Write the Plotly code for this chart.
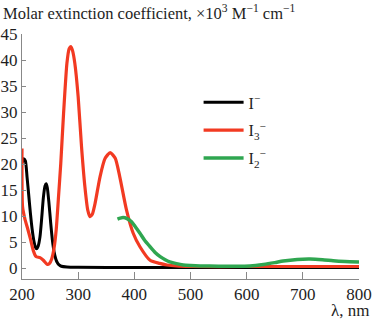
import plotly.graph_objects as go

# I^- (black)
wl_i = [200, 203, 206, 209, 212, 215, 218, 221, 224, 226, 229, 232, 235, 238, 241, 243,
        245, 248, 251, 254, 257, 260, 263, 266, 270, 280, 300, 400, 500, 600, 700, 800]
eps_i = [20.2, 21.0, 20.6, 17.5, 14.0, 10.5, 7.5, 5.3, 4.0, 3.7, 4.3, 6.0, 9.5, 13.5, 15.8, 16.2,
         15.5, 12.5, 8.8, 5.5, 3.2, 1.8, 1.0, 0.6, 0.35, 0.2, 0.15, 0.1, 0.1, 0.1, 0.1, 0.1]

# I3^- (red)
wl_i3 = [200, 201, 205, 210, 215, 220, 225, 232, 238, 245, 249, 253, 257, 261, 265, 269, 274,
         280, 284, 287, 290, 294, 300, 306, 312, 317, 321, 325, 330, 339, 348, 357, 366, 374,
         386, 398, 410, 428, 445, 458, 475, 500, 600, 700, 800]
eps_i3 = [23.0, 11.8, 9.5, 7.6, 5.6, 3.4, 2.2, 2.0, 1.5, 0.7, 0.9, 1.8, 3.8, 7.5, 13.7, 20.1, 29.7,
          39.4, 42.2, 42.6, 41.8, 39.4, 32.9, 23.3, 15.6, 11.2, 9.9, 10.3, 12.4, 17.6, 21.1, 22.2, 21.1, 17.6,
          11.2, 6.7, 4.1, 1.5, 0.9, 0.6, 0.4, 0.3, 0.3, 0.3, 0.3]

# I2^- (green)
wl_i2 = [370, 375, 380, 387, 395, 402, 410, 418, 428, 437, 446, 455, 463, 475, 487, 500, 517,
         550, 580, 606, 630, 650, 665, 690, 713, 735, 754, 775, 800]
eps_i2 = [9.4, 9.6, 9.7, 9.5, 8.9, 7.9, 6.7, 5.4, 4.1, 3.0, 2.2, 1.6, 1.2, 0.85, 0.6, 0.5, 0.42,
          0.35, 0.33, 0.4, 0.7, 1.05, 1.35, 1.65, 1.73, 1.6, 1.4, 1.25, 1.15]

x_ticks = [200, 300, 400, 500, 600, 700, 800]
y_ticks = [0, 5, 10, 15, 20, 25, 30, 35, 40, 45]

serif = "Liberation Serif, Times New Roman, serif"
txt = "#1e1e1e"

fig = go.Figure()
fig.add_trace(go.Scatter(x=wl_i, y=eps_i, mode="lines", name="I<sup>−</sup>",
                         line=dict(color="#000000", width=3, shape="spline", smoothing=0.6),
                         legendgroup="a"))
fig.add_trace(go.Scatter(x=wl_i3, y=eps_i3, mode="lines", name="I<sub>3</sub><sup>−</sup>",
                         line=dict(color="#f23a22", width=3.2, shape="spline", smoothing=0.6),
                         legendgroup="b"))
fig.add_trace(go.Scatter(x=wl_i2, y=eps_i2, mode="lines", name="I<sub>2</sub><sup>−</sup>",
                         line=dict(color="#2fa650", width=3.5, shape="spline", smoothing=0.6),
                         legendgroup="c"))

fig.update_layout(
    width=373, height=319,
    margin=dict(l=22, r=14, t=34, b=40, autoexpand=False),
    paper_bgcolor="white", plot_bgcolor="white",
    font=dict(family=serif, size=16, color=txt),
    showlegend=True,
    legend=dict(x=0.524, y=0.79, xanchor="left", yanchor="top",
                bgcolor="rgba(0,0,0,0)", font=dict(size=16, family=serif, color=txt),
                tracegroupgap=4, itemwidth=40),
    xaxis=dict(range=[200, 800], tickvals=x_ticks, ticks="inside", ticklen=7,
               showline=True, linecolor="#888888", linewidth=1, tickcolor="#888888",
               showgrid=False, zeroline=False, automargin=False,
               tickfont=dict(size=17, family=serif, color=txt)),
    yaxis=dict(range=[-2.1, 45], tickvals=y_ticks, ticks="inside", ticklen=4,
               showline=True, linecolor="#888888", linewidth=1, tickcolor="#888888",
               showgrid=False, zeroline=False, automargin=False,
               tickfont=dict(size=17, family=serif, color=txt)),
    annotations=[
        dict(text="Molar extinction coefficient, ×10<sup>3</sup> M<sup>−1</sup> cm<sup>−1</sup>",
             xref="paper", yref="paper", x=-21 / 337, y=1 + 22 / 245,
             xanchor="left", yanchor="middle", showarrow=False,
             font=dict(size=16.5, family=serif, color=txt)),
        dict(text="λ, nm", xref="paper", yref="paper", x=1 + 12 / 337, y=-31 / 245,
             xanchor="right", yanchor="middle", showarrow=False,
             font=dict(size=17, family=serif, color=txt)),
    ],
)

fig.write_html("out.html", config={"displayModeBar": False},
               post_script="document.body.style.margin='0';document.body.style.padding='0';")
